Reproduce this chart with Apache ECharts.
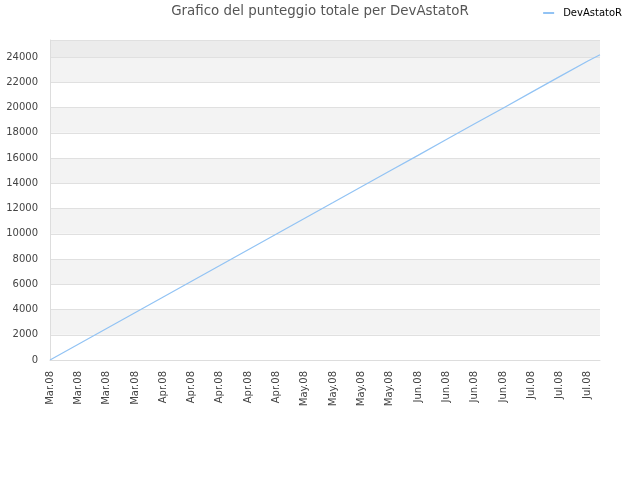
<!DOCTYPE html>
<html>
<head>
<meta charset="utf-8">
<script src="https://cdn.jsdelivr.net/npm/echarts@6/dist/echarts.min.js"></script>
<style>html,body{margin:0;padding:0;background:#fff}#c{width:640px;height:480px}</style>
</head>
<body>
<div id="c"></div>
<script>
const titleText = "Grafico del punteggio totale per DevAstatoR";
const seriesName = "DevAstatoR";
// weekly tick labels (one every 7 days)
const tickLabels = ["Mar.08","Mar.08","Mar.08","Mar.08","Apr.08","Apr.08","Apr.08","Apr.08","Apr.08","May.08","May.08","May.08","May.08","Jun.08","Jun.08","Jun.08","Jun.08","Jul.08","Jul.08","Jul.08"];
// day offsets of the sampled points and total score at each
const days = [0,7,14,21,28,35,42,49,56,63,70,77,84,91,98,105,112,119,126,133,136];
const scores = [0,1250,2500,3740,4990,6240,7480,8730,9980,11230,12470,13720,14970,16210,17460,18710,19950,21200,22450,23690,24180];
const yTicks = [0,2000,4000,6000,8000,10000,12000,14000,16000,18000,20000,22000,24000];

const points = days.map((d,i)=>[d,scores[i]]);
const chart = echarts.init(document.getElementById('c'), null, {renderer:'canvas'});
chart.setOption({
  animation:false,
  backgroundColor:'#ffffff',
  textStyle:{fontFamily:'DejaVu Sans'},
  title:{text:titleText,left:'center',top:0,textStyle:{fontSize:13.4,fontWeight:'normal',color:'#555',fontFamily:'DejaVu Sans'}},
  legend:{right:13,top:3,itemWidth:11,itemHeight:2,icon:'rect',
    textStyle:{fontSize:10,color:'#000',fontFamily:'DejaVu Sans',padding:[0,0,0,4]},data:[seriesName]},
  grid:{left:50,right:40,top:40,bottom:120,containLabel:false},
  xAxis:{type:'value',min:0,max:136,interval:7,
    axisLine:{show:true,onZero:false,lineStyle:{color:'#dddddd'}},axisTick:{show:false},
    splitLine:{show:false},
    axisLabel:{rotate:90,fontSize:10,color:'#444',margin:11,fontFamily:'DejaVu Sans',
      showMaxLabel:false,
      formatter:function(v){const k=Math.round(v/7);return (v%7===0 && tickLabels[k])?tickLabels[k]:'';}}},
  yAxis:{type:'value',min:0,max:25350,interval:2000,
    axisLine:{show:true,lineStyle:{color:'#dddddd'}},axisTick:{show:false},
    axisLabel:{fontSize:10,color:'#444',margin:12,fontFamily:'DejaVu Sans',showMaxLabel:false,
      formatter:function(v){return yTicks.indexOf(v)>=0?String(v):'';}},
    splitLine:{show:true,lineStyle:{color:'#e0e0e0'}},
    splitArea:{show:true,areaStyle:{color:['#ffffff','#f3f3f3','#ffffff','#f3f3f3','#ffffff','#f3f3f3','#ffffff','#f3f3f3','#ffffff','#f3f3f3','#ffffff','#f3f3f3','#ececec']}}},
  series:[{name:seriesName,type:'line',data:points,showSymbol:false,
    lineStyle:{color:'#92c3f4',width:1.2},itemStyle:{color:'#92c3f4'}}]
});
</script>
</body>
</html>
